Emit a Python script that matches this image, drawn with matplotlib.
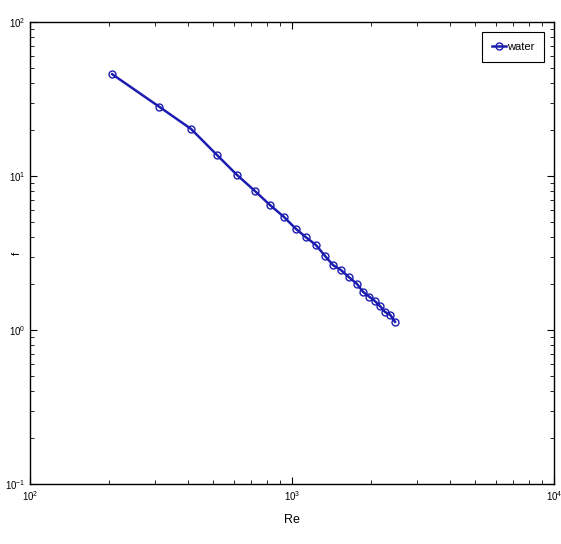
import matplotlib
matplotlib.use('Agg')
import matplotlib.pyplot as plt

# Reynolds number and friction factor measured for water
re = [206, 311, 412, 517, 617, 722, 824, 932, 1036, 1131, 1235, 1336,
      1434, 1538, 1651, 1771, 1866, 1968, 2074, 2167, 2265, 2366, 2473]
f = [45.8, 28.2, 20.2, 13.7, 10.15, 7.99, 6.48, 5.42, 4.53, 4.0, 3.56, 3.03,
     2.64, 2.45, 2.20, 1.99, 1.77, 1.65, 1.54, 1.43, 1.31, 1.26, 1.13]

plt.rcParams['font.family'] = ['Liberation Sans Narrow', 'Liberation Sans', 'DejaVu Sans']

fig = plt.figure(figsize=(5.61, 5.44), dpi=100)
ax = fig.add_axes([30 / 561, 60 / 544, 524 / 561, 462 / 544])

ax.loglog(re, f, '-o', color='#1c1cb0', linewidth=1.8, markersize=5,
          markerfacecolor='none', markeredgewidth=1.0, label='water')

ax.set_xlim(1e2, 1e4)
ax.set_ylim(1e-1, 1e2)
ax.set_xlabel('Re', fontsize=9, labelpad=8)
ax.set_ylabel('f', fontsize=8)
ax.yaxis.set_label_coords(-0.015, 0.5)

ax.tick_params(which='both', direction='in', top=True, right=True, labelsize=7)
ax.tick_params(which='major', length=5, width=0.8)
ax.tick_params(which='minor', length=3, width=0.6)
for s in ax.spines.values():
    s.set_linewidth(1.0)
    s.set_color('black')

leg = ax.legend(loc='upper right', fontsize=8, fancybox=False, framealpha=1,
                edgecolor='black', handlelength=1.2, borderpad=0.9,
                handletextpad=0.1, borderaxespad=0.9)
leg.get_frame().set_linewidth(0.8)

fig.savefig('out.png', dpi=100)
